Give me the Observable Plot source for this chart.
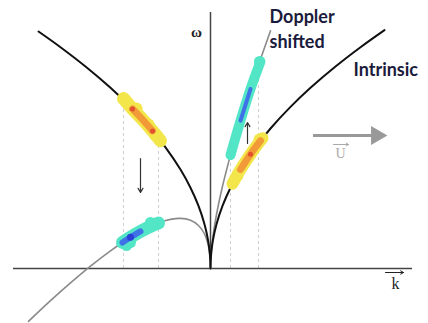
<!DOCTYPE html>
<html>
<head>
<meta charset="utf-8">
<script src="https://cdn.jsdelivr.net/npm/d3@7"></script>
<script src="https://cdn.jsdelivr.net/npm/@observablehq/plot@0.6"></script>
<style>
  html, body { margin: 0; padding: 0; background: #fff; }
  #chart { width: 428px; height: 323px; }
</style>
</head>
<body>
<div id="chart"></div>
<script>
// Intrinsic dispersion curve (k, ω)
const intrinsicK = [-1.72, -1.5, -1.25, -1.0, -0.8, -0.6, -0.45, -0.3, -0.2, -0.12, -0.06, -0.025, -0.008, -0.002, 0,
                    0.002, 0.008, 0.025, 0.06, 0.12, 0.2, 0.3, 0.45, 0.6, 0.8, 1.0, 1.25, 1.5, 1.74];
const intrinsicW = [2.37, 2.213, 2.02, 1.807, 1.616, 1.40, 1.212, 0.99, 0.808, 0.626, 0.443, 0.286, 0.162, 0.081, 0,
                    0.081, 0.162, 0.286, 0.443, 0.626, 0.808, 0.99, 1.212, 1.40, 1.616, 1.807, 2.02, 2.213, 2.384];
// Doppler shifted curve
const dopplerK = [-1.82, -1.6, -1.4, -1.2, -1.0, -0.8, -0.65, -0.5, -0.4, -0.3, -0.2, -0.12, -0.06, -0.025, -0.008, -0.002, 0,
                  0.002, 0.008, 0.025, 0.06, 0.12, 0.2, 0.3, 0.4, 0.5, 0.6];
const dopplerW = [-0.529, -0.322, -0.144, 0.024, 0.177, 0.312, 0.397, 0.463, 0.491, 0.501, 0.482, 0.43, 0.345, 0.245, 0.149, 0.078, 0,
                  0.084, 0.175, 0.327, 0.54, 0.822, 1.134, 1.479, 1.795, 2.093, 2.378];
// Wave-energy blobs
const blobIntrLeftK = [-0.87, -0.78, -0.68, -0.58, -0.5];
const blobIntrLeftW = [1.70, 1.596, 1.49, 1.376, 1.278];
const blobDopLeftK = [-0.88, -0.8, -0.7, -0.6, -0.52];
const blobDopLeftW = [0.26, 0.312, 0.371, 0.422, 0.455];
const blobIntrRightK = [0.22, 0.3, 0.4, 0.5, 0.52];
const blobIntrRightW = [0.848, 0.99, 1.143, 1.278, 1.303];
const blobDopRightK = [0.2, 0.3, 0.4, 0.5];
const blobDopRightW = [1.134, 1.479, 1.795, 2.07];
// irregular bumps on the blobs
const bumpYellowK = [-0.74, -0.62, -0.55, 0.27, 0.49];
const bumpYellowW = [1.60, 1.44, 1.33, 0.93, 1.29];
const bumpCyanK = [-0.60, -0.55, -0.80, -0.84, 0.49];
const bumpCyanW = [0.46, 0.45, 0.26, 0.23, 2.07];
// Dashed guides: k, top ω
const guideK = [-0.87, -0.52, 0.2, 0.48];
const guideTop = [1.66, 1.30, 1.12, 2.02];
// Labels
const labelDoppler = ["Doppler", "shifted"];
const labelIntrinsic = "Intrinsic";

const zip = (ks, ws) => ks.map((k, i) => ({k, w: ws[i]}));
const intrinsic = zip(intrinsicK, intrinsicW);
const doppler = zip(dopplerK, dopplerW);
const bIL = zip(blobIntrLeftK, blobIntrLeftW);
const bDL = zip(blobDopLeftK, blobDopLeftW);
const bIR = zip(blobIntrRightK, blobIntrRightW);
const bDR = zip(blobDopRightK, blobDopRightW);
const bumpsY = zip(bumpYellowK, bumpYellowW);
const bumpsC = zip(bumpCyanK, bumpCyanW);
const guides = guideK.map((k, i) => ({k, top: guideTop[i]}));

const yellow = "#f3e64a", orange = "#f29a38", red = "#e2502e";
const cyan = "#52e6c6", blue = "#3f72e6", dblue = "#2a3fd6";
const navy = "#1b1b3c";

const blob = (data, color, w) => Plot.line(data, {x: "k", y: "w", stroke: color, strokeWidth: w, strokeLinecap: "round", strokeLinejoin: "round", curve: "catmull-rom"});

const plot = Plot.plot({
  width: 428, height: 323,
  marginTop: 0, marginRight: 0, marginBottom: 0, marginLeft: 0,
  x: {domain: [-2.1, 2.18], axis: null},
  y: {domain: [-0.55, 2.68], axis: null},
  style: {background: "#fff", overflow: "visible"},
  marks: [
    // dashed guides
    Plot.ruleX(guides, {x: "k", y1: 0, y2: "top", stroke: "#cfcfcf", strokeWidth: 1, strokeDasharray: "3,3"}),
    // axes
    Plot.ruleY([0], {x1: -1.97, x2: 2.02, stroke: "#444", strokeWidth: 1.5}),
    Plot.ruleX([0], {y1: 0, y2: 2.56, stroke: "#444", strokeWidth: 1.5}),
    // curves
    Plot.line(doppler, {x: "k", y: "w", stroke: "#8a8a8a", strokeWidth: 1.6, curve: "catmull-rom"}),
    Plot.line(intrinsic, {x: "k", y: "w", stroke: "#111", strokeWidth: 2, curve: "catmull-rom"}),
    // blobs
    Plot.dot(bumpsY, {x: "k", y: "w", r: 6, fill: yellow}),
    Plot.dot(bumpsC, {x: "k", y: "w", r: 5.5, fill: cyan}),
    blob(bIL, yellow, 13),
    blob(bIL.slice(1, 4), orange, 7),
    Plot.dot([bIL[1], bIL[3]], {x: "k", y: "w", r: 2.5, fill: red}),
    blob(bIR, yellow, 12),
    blob(bIR.slice(1, 4), orange, 7),
    Plot.dot([bIR[2]], {x: "k", y: "w", r: 2.5, fill: red}),
    blob(bDL, cyan, 13),
    blob(bDL.slice(0, 3), blue, 6),
    Plot.dot([bDL[1]], {x: "k", y: "w", r: 3.5, fill: dblue}),
    blob(bDR, cyan, 10),
    blob(bDR.slice(1, 3), blue, 4),
    // shift arrows
    Plot.arrow([{x1: -0.70, y1: 1.10, x2: -0.70, y2: 0.76}], {x1: "x1", y1: "y1", x2: "x2", y2: "y2", stroke: "#333", strokeWidth: 1.2, headLength: 6}),
    Plot.arrow([{x1: 0.37, y1: 1.25, x2: 0.37, y2: 1.46}], {x1: "x1", y1: "y1", x2: "x2", y2: "y2", stroke: "#333", strokeWidth: 1.2, headLength: 6}),
    // U arrow (shaft + filled head)
    Plot.ruleY([1.33], {x1: 1.03, x2: 1.64, stroke: "#999", strokeWidth: 3}),
    Plot.dot([{k: 1.66, w: 1.33}], {x: "k", y: "w", symbol: "triangle", rotate: 90, r: 7, fill: "#999", stroke: "none"}),
    Plot.arrow([{x1: 1.23, y1: 1.24, x2: 1.38, y2: 1.24}], {x1: "x1", y1: "y1", x2: "x2", y2: "y2", stroke: "#aaa", strokeWidth: 1, headLength: 4}),
    Plot.text(["U"], {x: 1.30, y: 1.15, fill: "#aaa", fontSize: 14, fontFamily: "Liberation Serif"}),
    // k label
    Plot.arrow([{x1: 1.75, y1: -0.04, x2: 1.93, y2: -0.04}], {x1: "x1", y1: "y1", x2: "x2", y2: "y2", stroke: "#222", strokeWidth: 1, headLength: 5}),
    Plot.text(["k"], {x: 1.85, y: -0.15, fill: "#222", fontSize: 16, fontFamily: "Liberation Serif"}),
    // ω label
    Plot.text(["ω"], {x: -0.14, y: 2.36, fill: "#222", fontSize: 15, fontWeight: "bold", fontFamily: "Liberation Serif"}),
    // curve labels
    Plot.text([labelDoppler[0]], {x: 0.59, y: 2.51, text: d => d, textAnchor: "start", fill: navy, fontSize: 18, fontWeight: "bold", fontFamily: "Lato"}),
    Plot.text([labelDoppler[1]], {x: 0.59, y: 2.26, text: d => d, textAnchor: "start", fill: navy, fontSize: 18, fontWeight: "bold", fontFamily: "Lato"}),
    Plot.text([labelIntrinsic], {x: 1.43, y: 1.98, text: d => d, textAnchor: "start", fill: navy, fontSize: 18, fontWeight: "bold", fontFamily: "Lato"})
  ]
});

document.getElementById("chart").appendChild(plot);
</script>
</body>
</html>
